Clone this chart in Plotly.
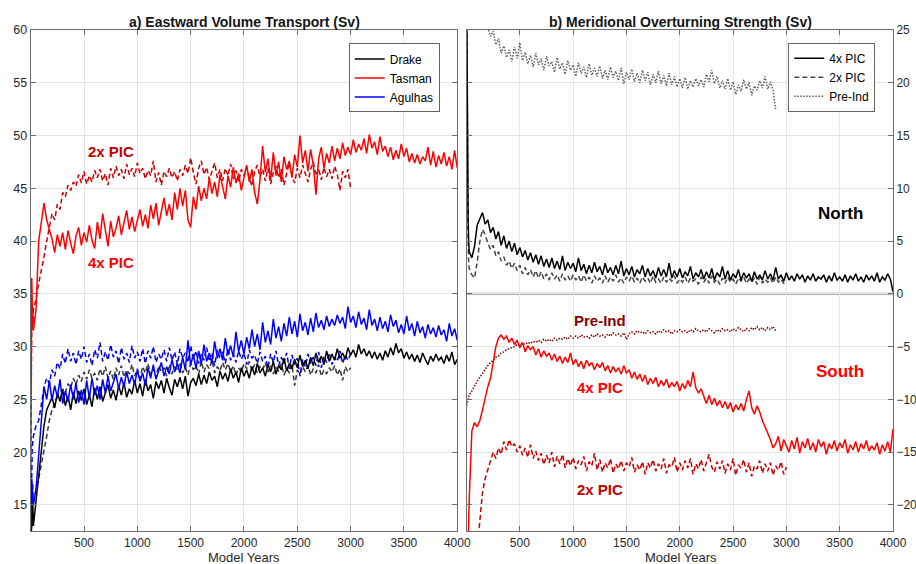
import plotly.graph_objects as go

# ---------------- data ----------------
EARLY = [1, 5, 10, 15, 20]
YEARS_4X = EARLY + list(range(25, 4001, 25))
YEARS_2X = EARLY + list(range(25, 3001, 25))
YEARS_PI = EARLY + list(range(25, 2901, 25))
X_TICKS = [500, 1000, 1500, 2000, 2500, 3000, 3500, 4000]
Y_TICKS_A = [15, 20, 25, 30, 35, 40, 45, 50, 55, 60]
Y_TICKS_B = [-20, -15, -10, -5, 0, 5, 10, 15, 20, 25]

# Panel a) Eastward volume transport (Sv)
TASMAN_4X = [20.0, 30.0, 36.5, 34.0, 31.5,
    31.5, 33.5, 40.0, 41.8, 43.6, 42.0, 41.0, 40.2,
    38.9, 40.6, 39.5, 40.8, 39.2, 41.0, 39.8, 38.8,
    40.5, 41.3, 39.6, 40.8, 39.9, 41.5, 40.1, 39.3,
    41.8, 40.2, 42.6, 41.0, 39.5, 41.9, 40.4, 41.2,
    42.4, 40.6, 41.8, 42.9, 41.1, 42.3, 40.9, 42.0,
    43.0, 41.4, 42.5, 41.2, 43.4, 42.1, 43.6, 41.5,
    42.8, 44.1, 42.4, 43.5, 42.0, 44.6, 43.0, 45.0,
    43.3, 44.8, 42.0, 41.3, 44.2, 43.0, 45.2, 43.8,
    45.0, 44.0, 46.0, 44.5, 45.6, 44.2, 46.3, 45.0,
    44.0, 46.2, 45.1, 47.0, 45.5, 46.4, 44.8, 46.0,
    47.2, 45.6, 46.8, 44.6, 43.5, 45.8, 49.0, 46.5,
    47.8, 45.8, 48.4, 46.2, 47.5, 45.6, 48.0, 46.8,
    47.6, 46.0, 48.2, 47.0, 50.0, 47.4, 48.6, 46.6,
    48.7, 47.2, 44.4, 47.8, 48.9, 46.9, 48.3, 47.4,
    49.0, 47.6, 48.8, 47.8, 49.3, 48.1, 48.9, 48.2,
    49.6, 48.4, 49.2, 48.6, 49.7, 48.3, 50.1, 48.8,
    49.4, 48.2, 49.9, 48.5, 49.0, 48.0, 48.9, 47.7,
    48.6, 47.8, 49.2, 48.0, 48.8, 47.5, 48.3, 47.4,
    48.2, 47.3, 48.0, 47.6, 48.9, 47.2, 48.5, 47.0,
    48.1, 47.3, 48.4, 47.1, 48.0, 46.8, 48.6, 46.9]

TASMAN_2X = [18.0, 28.0, 33.0, 32.0, 31.5,
    33.5, 34.5, 36.0, 37.2, 38.5, 40.0, 41.5, 42.6,
    42.0, 43.5, 43.0, 44.6, 44.2, 45.3, 44.8, 45.6,
    45.2, 46.3, 45.5, 46.6, 45.4, 46.2, 45.6, 46.7,
    46.0, 46.8, 45.7, 46.4, 45.3, 46.9, 46.0, 47.1,
    46.2, 46.8, 45.9, 47.3, 46.3, 46.9, 46.1, 47.4,
    46.4, 46.9, 45.9, 46.7, 46.2, 47.6, 45.6, 46.5,
    45.3, 46.6, 46.1, 46.9, 46.0, 46.6, 45.7, 46.8,
    46.2, 47.2, 46.4, 47.9, 46.5, 45.4, 46.9, 47.6,
    46.3, 47.0, 45.8, 46.6, 47.4, 46.0, 46.8, 45.7,
    46.9, 46.2, 47.3, 45.9, 46.7, 45.6, 46.8, 46.2,
    47.0, 46.0, 45.2, 46.6, 47.2, 46.1, 46.8, 45.7,
    46.9, 45.4, 46.5, 47.1, 46.0, 46.8, 45.3, 46.4,
    47.4, 46.2, 45.5, 46.9, 46.0, 47.2, 46.3, 45.6,
    46.8, 47.5, 46.2, 46.9, 45.8, 47.0, 46.1, 46.8,
    45.9, 47.1, 46.3, 44.8, 46.6, 46.0, 46.8, 45.0]

DRAKE_4X = [12.0, 12.3, 13.0, 14.0, 15.0,
    13.0, 15.5, 18.0, 20.5, 22.5, 24.0, 24.6, 25.2,
    24.2, 25.6, 24.8, 25.9, 24.4, 25.3, 24.0, 25.7,
    24.6, 25.8, 24.9, 26.0, 24.5, 25.4, 24.3, 26.1,
    25.0, 26.2, 24.8, 25.7, 26.4, 25.1, 25.9, 24.9,
    26.3, 25.4, 26.6, 25.2, 26.0, 25.5, 26.8, 25.6,
    26.5, 25.3, 26.9, 25.8, 26.4, 25.1, 26.7, 26.0,
    26.8, 25.6, 27.0, 26.1, 25.4, 26.9, 26.2, 27.1,
    26.0, 27.2, 25.3, 26.6, 27.0, 26.3, 27.4, 26.4,
    27.3, 26.5, 27.6, 26.8, 27.2, 26.2, 27.7, 26.9,
    27.5, 26.7, 27.9, 27.0, 27.6, 26.6, 28.0, 27.2,
    27.8, 27.0, 28.1, 27.3, 28.4, 27.5, 28.0, 27.2,
    28.3, 27.6, 28.6, 27.4, 28.2, 27.8, 28.9, 27.7,
    28.4, 27.9, 28.8, 28.0, 29.2, 28.1, 28.7, 27.9,
    29.0, 28.2, 29.4, 28.5, 29.1, 28.3, 29.6, 28.6,
    29.3, 28.7, 29.8, 28.9, 29.4, 28.8, 29.9, 29.2,
    29.7, 29.0, 30.2, 29.3, 29.8, 29.1, 29.6, 28.9,
    29.5, 28.8, 29.4, 28.7, 29.6, 29.0, 29.9, 29.2,
    30.3, 29.4, 29.8, 28.9, 29.5, 28.8, 29.3, 28.6,
    29.2, 28.5, 29.4, 28.8, 28.3, 29.1, 28.6, 29.3,
    28.7, 29.0, 28.4, 29.2, 28.6, 29.5, 28.3, 28.8]

DRAKE_2X = [12.5, 13.0, 14.5, 16.0, 17.0,
    15.0, 16.5, 17.5, 18.8, 20.0, 21.5, 23.0, 24.0,
    24.6, 25.3, 25.0, 26.0, 25.6, 26.5, 26.1, 27.0,
    26.4, 27.3, 26.7, 27.6, 26.9, 27.8, 27.0, 27.5,
    26.8, 27.9, 27.2, 28.1, 27.0, 27.7, 26.9, 28.0,
    27.3, 28.2, 27.1, 27.8, 27.4, 28.3, 27.2, 27.9,
    27.0, 28.1, 27.5, 28.4, 27.3, 27.9, 27.1, 28.2,
    27.6, 28.0, 27.2, 28.3, 27.4, 28.1, 27.7, 28.5,
    27.5, 28.0, 27.3, 28.4, 27.8, 28.2, 27.4, 28.6,
    27.6, 28.3, 27.9, 28.7, 27.5, 28.1, 27.7, 28.5,
    27.8, 28.4, 27.6, 28.2, 27.3, 28.0, 27.6, 28.4,
    27.9, 28.6, 27.7, 28.3, 27.5, 28.1, 27.8, 28.5,
    27.6, 28.2, 27.4, 28.0, 27.7, 28.4, 27.3, 27.9,
    27.5, 28.3, 26.3, 27.8, 27.4, 28.1, 27.6, 28.2,
    27.3, 27.9, 27.5, 28.3, 27.2, 27.8, 27.4, 28.0,
    27.6, 28.2, 27.3, 27.9, 26.8, 28.1, 27.6, 28.0]

AGULHAS_4X = [12.5, 14.5, 17.5, 16.5, 15.5,
    15.0, 16.5, 20.0, 23.5, 26.2, 25.0, 26.8, 24.9,
    26.3, 25.2, 26.9, 24.6, 25.8, 24.8, 26.4, 25.0,
    26.6, 24.7, 25.9, 24.5, 26.8, 25.1, 27.0, 25.4,
    26.3, 25.0, 26.9, 25.6, 27.2, 25.8, 26.5, 27.4,
    26.0, 27.1, 26.2, 27.6, 26.5, 27.3, 26.4, 27.8,
    26.7, 27.5, 26.3, 28.0, 27.0, 28.3, 26.9, 27.7,
    28.5, 27.2, 28.1, 27.4, 28.8, 27.6, 28.4, 27.5,
    29.0, 27.8, 30.6, 28.2, 29.3, 27.9, 29.6, 28.3,
    30.2, 28.6, 29.4, 28.4, 30.5, 28.9, 29.8, 28.7,
    30.8, 29.2, 30.1, 29.0, 31.4, 29.5, 30.6, 29.3,
    30.9, 29.8, 31.6, 30.0, 31.2, 29.7, 32.3, 30.4,
    31.5, 30.2, 32.6, 30.8, 31.9, 30.5, 32.2, 31.0,
    32.8, 31.2, 32.4, 30.9, 33.1, 31.5, 32.3, 31.1,
    32.7, 31.4, 33.2, 31.8, 32.5, 31.6, 32.9, 31.9,
    32.6, 32.0, 33.0, 32.2, 32.8, 31.7, 33.8, 32.3,
    32.9, 31.8, 33.3, 32.1, 32.7, 31.6, 33.5, 32.0,
    32.6, 31.5, 32.8, 31.7, 32.4, 31.4, 33.0, 31.9,
    32.5, 31.3, 32.1, 31.2, 32.9, 31.5, 32.2, 31.0,
    32.4, 31.3, 31.9, 30.8, 32.1, 31.2, 31.8, 30.9,
    32.0, 31.1, 31.6, 30.5, 32.2, 31.0, 31.7, 30.6]

AGULHAS_2X = [13.0, 16.0, 19.0, 20.5, 21.0,
    21.5, 22.5, 23.0, 24.5, 26.2, 27.0, 26.5, 27.8,
    27.2, 28.5, 27.9, 29.3, 28.4, 29.8, 28.6, 29.4,
    28.3, 29.6, 28.8, 30.0, 28.5, 29.3, 28.2, 29.7,
    28.9, 30.4, 28.6, 29.5, 28.7, 30.2, 29.0, 29.6,
    28.4, 29.9, 28.8, 29.4, 28.5, 30.1, 28.9, 29.5,
    28.6, 29.8, 28.4, 29.6, 28.9, 30.0, 28.5, 29.3,
    28.8, 29.7, 28.6, 29.9, 28.7, 29.5, 28.3, 29.8,
    28.9, 29.4, 28.5, 30.1, 28.8, 29.6, 28.4, 29.3,
    28.7, 29.9, 28.6, 29.4, 28.2, 29.7, 28.9, 29.5,
    28.4, 29.8, 28.7, 29.3, 28.5, 29.6, 28.8, 29.4,
    28.3, 29.7, 28.9, 29.2, 28.4, 29.5, 28.6, 29.1,
    28.0, 29.3, 28.5, 29.6, 28.2, 29.0, 28.4, 29.4,
    27.9, 29.2, 28.3, 28.9, 27.2, 28.8, 28.1, 29.3,
    28.4, 29.0, 28.2, 29.5, 28.0, 29.1, 28.5, 29.4,
    28.3, 29.0, 28.6, 29.6, 28.4, 29.2, 28.7, 29.3]

# Panel b) Meridional overturning strength (Sv)
NORTH_4X = [30.0, 20.0, 12.0, 7.0, 5.0,
    4.0, 3.4, 4.5, 6.5, 7.2, 7.7, 6.6, 7.0,
    5.8, 6.3, 5.2, 5.9, 4.6, 5.5, 4.3, 5.0,
    4.0, 4.8, 3.7, 4.4, 3.5, 4.1, 3.2, 3.9,
    3.0, 3.7, 2.8, 3.6, 2.6, 3.3, 2.5, 3.4,
    2.4, 3.1, 2.3, 3.6, 2.2, 3.0, 2.4, 2.9,
    2.1, 3.4, 2.2, 2.8, 1.9, 2.7, 2.0, 3.0,
    2.1, 2.6, 1.8, 2.9, 2.0, 2.5, 1.8, 2.7,
    1.9, 3.1, 1.7, 2.4, 1.8, 2.6, 1.6, 2.3,
    1.9, 2.7, 1.6, 2.4, 1.7, 2.2, 1.5, 2.5,
    1.7, 2.3, 1.6, 2.9, 1.5, 2.2, 1.6, 2.4,
    1.5, 2.1, 1.7, 2.6, 1.4, 2.0, 1.6, 2.3,
    1.4, 2.1, 1.5, 2.4, 1.3, 2.0, 1.6, 2.6,
    1.4, 2.2, 1.3, 1.9, 1.5, 2.3, 1.3, 2.0,
    1.5, 1.9, 1.2, 2.1, 1.4, 1.8, 1.3, 2.2,
    1.4, 1.9, 1.3, 2.5, 1.4, 1.8, 1.2, 2.0,
    1.3, 1.7, 1.2, 1.9, 1.4, 1.8, 1.1, 1.7,
    1.3, 1.9, 1.2, 1.6, 1.4, 1.8, 1.1, 1.7,
    1.2, 2.0, 1.3, 1.6, 1.2, 1.8, 1.1, 1.7,
    1.3, 1.9, 1.2, 1.6, 1.1, 1.8, 1.3, 1.7,
    1.2, 2.0, 1.1, 1.6, 1.3, 1.9, 1.4, 0.2]

NORTH_2X = [30.0, 18.0, 9.0, 5.0, 3.0,
    2.4, 1.8, 1.5, 3.0, 5.0, 6.1, 5.6, 4.8,
    4.2, 4.6, 3.6, 4.0, 3.1, 3.5, 2.7, 3.1,
    2.4, 2.9, 2.2, 2.7, 1.9, 2.5, 1.8, 2.3,
    1.6, 2.2, 1.5, 2.1, 1.4, 1.9, 1.3, 2.0,
    1.4, 1.8, 1.2, 1.9, 1.3, 1.7, 1.2, 1.8,
    1.3, 1.7, 1.1, 1.8, 1.2, 1.6, 1.0, 1.7,
    1.2, 1.5, 1.0, 1.7, 1.1, 1.6, 1.2, 1.8,
    1.1, 1.5, 1.0, 1.6, 1.2, 1.7, 1.1, 1.5,
    1.0, 1.6, 1.2, 1.5, 1.0, 1.7, 1.1, 1.4,
    1.0, 1.6, 1.1, 1.5, 1.2, 1.7, 1.0, 1.4,
    1.1, 1.6, 1.0, 1.5, 1.2, 1.4, 0.9, 1.6,
    1.1, 1.5, 1.0, 1.7, 1.1, 1.4, 0.9, 1.5,
    1.0, 1.6, 1.1, 1.4, 0.9, 1.5, 1.2, 1.6,
    1.0, 1.4, 1.1, 1.5, 0.9, 1.6, 1.0, 1.4,
    1.1, 1.5, 1.0, 1.6, 1.1, 1.4, 1.0, 1.3]

NORTH_PI = [32.0, 31.5, 31.0, 30.5, 30.0,
    29.5, 29.0, 28.2, 27.5, 26.8, 26.2, 25.6, 25.2,
    24.4, 24.9, 23.6, 24.2, 22.8, 23.5, 22.4, 23.1,
    22.0, 23.4, 22.3, 23.8, 22.1, 22.9, 21.8, 22.6,
    21.5, 22.8, 21.7, 22.3, 21.2, 22.5, 21.6, 22.0,
    21.0, 22.4, 21.3, 21.9, 20.8, 22.1, 21.2, 21.7,
    20.6, 21.9, 20.9, 21.5, 20.5, 21.8, 20.7, 21.4,
    20.6, 21.6, 20.4, 21.2, 20.3, 21.5, 20.5, 21.1,
    20.2, 21.4, 19.9, 21.0, 20.3, 21.3, 20.1, 20.9,
    20.0, 21.2, 20.2, 21.0, 19.8, 20.8, 20.0, 21.1,
    19.9, 20.7, 19.7, 20.9, 19.8, 20.6, 19.6, 20.4,
    19.5, 20.5, 19.4, 20.2, 19.6, 20.4, 19.7, 20.3,
    19.6, 20.8, 20.1, 21.2, 19.9, 20.6, 19.5, 20.2,
    19.4, 20.4, 19.3, 20.1, 18.9, 19.8, 19.2, 20.3,
    19.4, 20.0, 18.8, 19.7, 19.3, 20.2, 19.5, 20.6,
    19.4, 20.1, 19.3, 17.4]

SOUTH_4X = [-30.0, -28.0, -25.0, -23.0, -21.0,
    -19.5, -13.0, -12.2, -12.6, -12.0, -11.0, -9.8, -8.8,
    -8.0, -6.5, -5.0, -4.2, -3.9, -4.3, -4.0, -4.6,
    -4.2, -4.8, -4.4, -5.1, -4.6, -5.5, -4.9, -5.3,
    -5.0, -5.8, -5.2, -6.0, -5.4, -5.9, -5.6, -6.3,
    -5.7, -6.4, -5.9, -6.6, -6.0, -6.5, -5.6, -6.7,
    -6.2, -6.9, -6.4, -7.1, -6.3, -6.8, -6.5, -7.2,
    -6.6, -7.0, -6.5, -7.3, -6.8, -7.5, -6.9, -7.4,
    -7.0, -7.6, -6.8, -7.5, -7.2, -8.0, -7.4, -8.1,
    -7.6, -8.3, -7.7, -8.6, -8.0, -8.5, -7.9, -8.8,
    -8.2, -8.7, -8.1, -8.9, -8.4, -8.8, -8.3, -9.2,
    -8.5, -9.0, -8.2, -8.8, -7.4, -8.9, -9.4, -9.0,
    -9.8, -10.4, -9.6, -10.5, -9.9, -10.6, -10.1, -10.8,
    -10.2, -10.9, -10.3, -11.2, -10.5, -11.0, -10.4, -11.1,
    -10.0, -9.2, -10.8, -11.4, -10.6, -11.2, -12.0, -12.6,
    -13.2, -13.8, -14.6, -14.2, -13.5, -14.9, -13.8, -14.5,
    -15.0, -13.9, -14.7, -13.6, -15.1, -14.0, -14.6, -13.7,
    -14.8, -14.1, -15.0, -13.8, -14.5, -14.0, -15.2, -14.2,
    -14.7, -13.9, -14.9, -14.1, -14.6, -13.8, -15.1, -14.3,
    -14.8, -14.0, -15.0, -14.2, -14.7, -13.9, -14.9, -14.4,
    -14.8, -14.1, -15.2, -14.3, -14.9, -14.0, -15.0, -12.8]

SOUTH_2X = [-35.0, -34.0, -33.0, -32.0, -31.0,
    -30.0, -28.5, -26.5, -24.5, -21.5, -18.8, -17.5, -16.6,
    -15.9, -15.0, -15.6, -14.6, -15.2, -14.0, -14.8, -13.8,
    -14.5, -14.2, -15.0, -14.4, -15.3, -14.6, -15.5, -14.3,
    -15.6, -14.9, -15.8, -15.1, -16.2, -15.3, -16.0, -15.0,
    -16.4, -15.4, -16.1, -15.2, -16.5, -15.6, -16.3, -15.5,
    -16.6, -15.8, -16.2, -15.4, -16.8, -15.9, -16.3, -15.1,
    -16.7, -15.7, -16.9, -16.0, -16.5, -15.6, -17.0, -16.1,
    -16.6, -15.8, -16.8, -16.0, -16.4, -15.5, -16.9, -16.2,
    -16.7, -15.9, -17.1, -16.0, -16.5, -15.7, -16.8, -16.1,
    -16.6, -15.6, -17.0, -16.2, -16.4, -15.5, -16.9, -16.0,
    -16.7, -15.8, -16.5, -15.6, -17.1, -16.1, -16.6, -15.7,
    -16.8, -16.0, -15.2, -16.4, -16.9, -15.9, -16.6, -15.8,
    -17.0, -16.1, -16.7, -15.6, -17.2, -16.2, -16.5, -15.7,
    -16.9, -16.0, -17.3, -16.3, -16.6, -15.8, -17.0, -16.1,
    -16.8, -16.0, -17.2, -16.3, -16.7, -15.9, -17.1, -16.4]

SOUTH_PI = [-10.6, -10.4, -10.2, -10.0, -9.8,
    -9.6, -9.2, -8.7, -8.3, -7.9, -7.5, -7.1, -6.8,
    -6.5, -6.3, -6.0, -5.9, -5.6, -5.5, -5.3, -5.2,
    -5.1, -5.0, -4.8, -4.9, -4.7, -4.8, -4.6, -4.7,
    -4.5, -4.6, -4.4, -4.6, -4.3, -4.5, -4.3, -4.5,
    -4.2, -4.4, -4.2, -4.3, -4.1, -4.3, -4.0, -4.2,
    -4.0, -4.2, -3.9, -4.1, -4.0, -4.2, -3.9, -4.1,
    -3.8, -4.0, -3.9, -4.1, -3.8, -4.0, -3.7, -3.9,
    -3.8, -4.0, -3.7, -4.3, -3.8, -3.6, -3.8, -3.5,
    -3.7, -3.6, -3.8, -3.5, -3.7, -3.6, -3.8, -3.5,
    -3.7, -3.4, -3.6, -3.5, -3.8, -3.5, -3.6, -3.4,
    -3.6, -3.5, -3.7, -3.4, -3.6, -3.3, -3.5, -3.6,
    -3.4, -3.6, -3.3, -3.5, -3.7, -3.4, -3.6, -3.3,
    -3.5, -3.4, -3.6, -3.3, -3.5, -3.2, -3.4, -3.6,
    -3.3, -3.5, -3.2, -3.4, -3.1, -3.4, -3.2, -3.5,
    -3.2, -3.4, -3.1, -3.5]

for name, ys, xs in [("TASMAN_4X", TASMAN_4X, YEARS_4X), ("DRAKE_4X", DRAKE_4X, YEARS_4X),
                     ("AGULHAS_4X", AGULHAS_4X, YEARS_4X), ("NORTH_4X", NORTH_4X, YEARS_4X),
                     ("SOUTH_4X", SOUTH_4X, YEARS_4X), ("TASMAN_2X", TASMAN_2X, YEARS_2X),
                     ("DRAKE_2X", DRAKE_2X, YEARS_2X), ("AGULHAS_2X", AGULHAS_2X, YEARS_2X),
                     ("NORTH_2X", NORTH_2X, YEARS_2X), ("SOUTH_2X", SOUTH_2X, YEARS_2X),
                     ("NORTH_PI", NORTH_PI, YEARS_PI), ("SOUTH_PI", SOUTH_PI, YEARS_PI)]:
    assert len(ys) == len(xs), (name, len(ys), len(xs))

# ---------------- styling ----------------
FONT = "Liberation Sans, Arial, Helvetica, sans-serif"
DASH = "5px,3px"
DOT = "1.5px,1.5px"
W = 1.5

fig = go.Figure()


def add(x, y, color, dash, xa, ya, name=None, legend=None, rank=None, width=W):
    fig.add_trace(go.Scatter(
        x=x, y=y, mode="lines", xaxis=xa, yaxis=ya,
        line=dict(color=color, width=width, dash=dash),
        name=name or "", showlegend=name is not None,
        legend=legend or "legend", legendrank=rank or 1000,
        hoverinfo="skip"))


# Panel a
add(YEARS_2X, DRAKE_2X, "rgb(55,55,55)", DASH, "x", "y")
add(YEARS_2X, TASMAN_2X, "rgb(200,0,0)", DASH, "x", "y")
add(YEARS_2X, AGULHAS_2X, "rgb(0,0,225)", DASH, "x", "y")
add(YEARS_4X, DRAKE_4X, "black", "solid", "x", "y", "Drake", "legend", 1)
add(YEARS_4X, TASMAN_4X, "rgb(255,0,0)", "solid", "x", "y", "Tasman", "legend", 2)
add(YEARS_4X, AGULHAS_4X, "rgb(0,0,255)", "solid", "x", "y", "Agulhas", "legend", 3)

# Panel b
add(YEARS_PI, NORTH_PI, "rgb(95,95,95)", DOT, "x2", "y2", "Pre-Ind", "legend2", 3)
add(YEARS_2X, NORTH_2X, "rgb(70,70,70)", DASH, "x2", "y2", "2x PIC", "legend2", 2)
add(YEARS_4X, NORTH_4X, "black", "solid", "x2", "y2", "4x PIC", "legend2", 1)
add(YEARS_PI, SOUTH_PI, "rgb(125,0,0)", DOT, "x2", "y2")
add(YEARS_2X, SOUTH_2X, "rgb(195,0,0)", DASH, "x2", "y2")
add(YEARS_4X, SOUTH_4X, "rgb(255,0,0)", "solid", "x2", "y2")

AX = dict(showline=True, linecolor="rgb(110,110,110)", linewidth=1, mirror="ticks",
          ticks="inside", ticklen=5, tickcolor="rgb(110,110,110)", automargin=False,
          showgrid=True, gridcolor="rgb(228,228,228)", gridwidth=1, zeroline=False,
          tickfont=dict(family=FONT, size=12.5, color="rgb(40,40,40)"))
XTF = dict(family=FONT, size=12, color="rgb(40,40,40)")

YDOM = [0.058, 0.9468]
LEG = dict(xanchor="left", yanchor="top", bgcolor="white",
           bordercolor="rgb(100,100,100)", borderwidth=1,
           font=dict(family=FONT, size=12, color="black"), tracegroupgap=0)
fig.update_layout(
    width=916, height=564, autosize=False, margin=dict(l=0, r=0, t=0, b=0, pad=0, autoexpand=False),
    paper_bgcolor="white", plot_bgcolor="white",
    font=dict(family=FONT, size=12, color="rgb(30,30,30)"),
    xaxis=dict(AX, domain=[0.0335, 0.4992], range=[0, 4000], tickvals=X_TICKS, anchor="y", tickfont=XTF),
    yaxis=dict(AX, domain=YDOM, range=[12.5, 60], tickvals=Y_TICKS_A, anchor="x"),
    xaxis2=dict(AX, domain=[0.5093, 0.9749], range=[0, 4000], tickvals=X_TICKS, anchor="y2", tickfont=XTF),
    yaxis2=dict(AX, domain=YDOM, range=[-22.5, 25], tickvals=Y_TICKS_B, anchor="x2",
                side="right", tickfont=dict(family=FONT, size=12, color="rgb(40,40,40)")),
    legend=dict(LEG, x=0.3807, y=0.923),
    legend2=dict(LEG, x=0.8606, y=0.924),
    showlegend=True,
)

fig.add_shape(type="line", xref="x2 domain", yref="y2", x0=0, x1=1, y0=0, y1=0,
              line=dict(color="rgb(150,150,150)", width=2), layer="below")


def note(text, x, y, color, size, xref="x", yref="y", bold=True):
    fig.add_annotation(text=f"<b>{text}</b>" if bold else text, x=x, y=y, xref=xref, yref=yref,
                       showarrow=False, xanchor="center", yanchor="middle",
                       font=dict(family=FONT, size=size, color=color))


note("a) Eastward Volume Transport (Sv)", 244 / 916, 1 - 22 / 564, "rgb(20,20,20)", 14, "paper", "paper")
note("b) Meridional Overturning Strength (Sv)", 680 / 916, 1 - 22 / 564, "rgb(20,20,20)", 14, "paper", "paper")
note("Model Years", 244 / 916, 1 - 557 / 564, "rgb(40,40,40)", 13, "paper", "paper", bold=False)
note("Model Years", 681 / 916, 1 - 557 / 564, "rgb(40,40,40)", 13, "paper", "paper", bold=False)

note("2x PIC", 750, 48.5, "rgb(195,0,0)", 15)
note("4x PIC", 750, 38.0, "rgb(255,0,0)", 15)
note("North", 3510, 7.6, "black", 17, "x2", "y2")
note("South", 3505, -7.4, "rgb(255,0,0)", 17, "x2", "y2")
note("Pre-Ind", 1255, -2.5, "rgb(135,0,0)", 15, "x2", "y2")
note("4x PIC", 1250, -8.9, "rgb(255,0,0)", 15, "x2", "y2")
note("2x PIC", 1250, -18.5, "rgb(195,0,0)", 15, "x2", "y2")

fig.write_html("out.html")
